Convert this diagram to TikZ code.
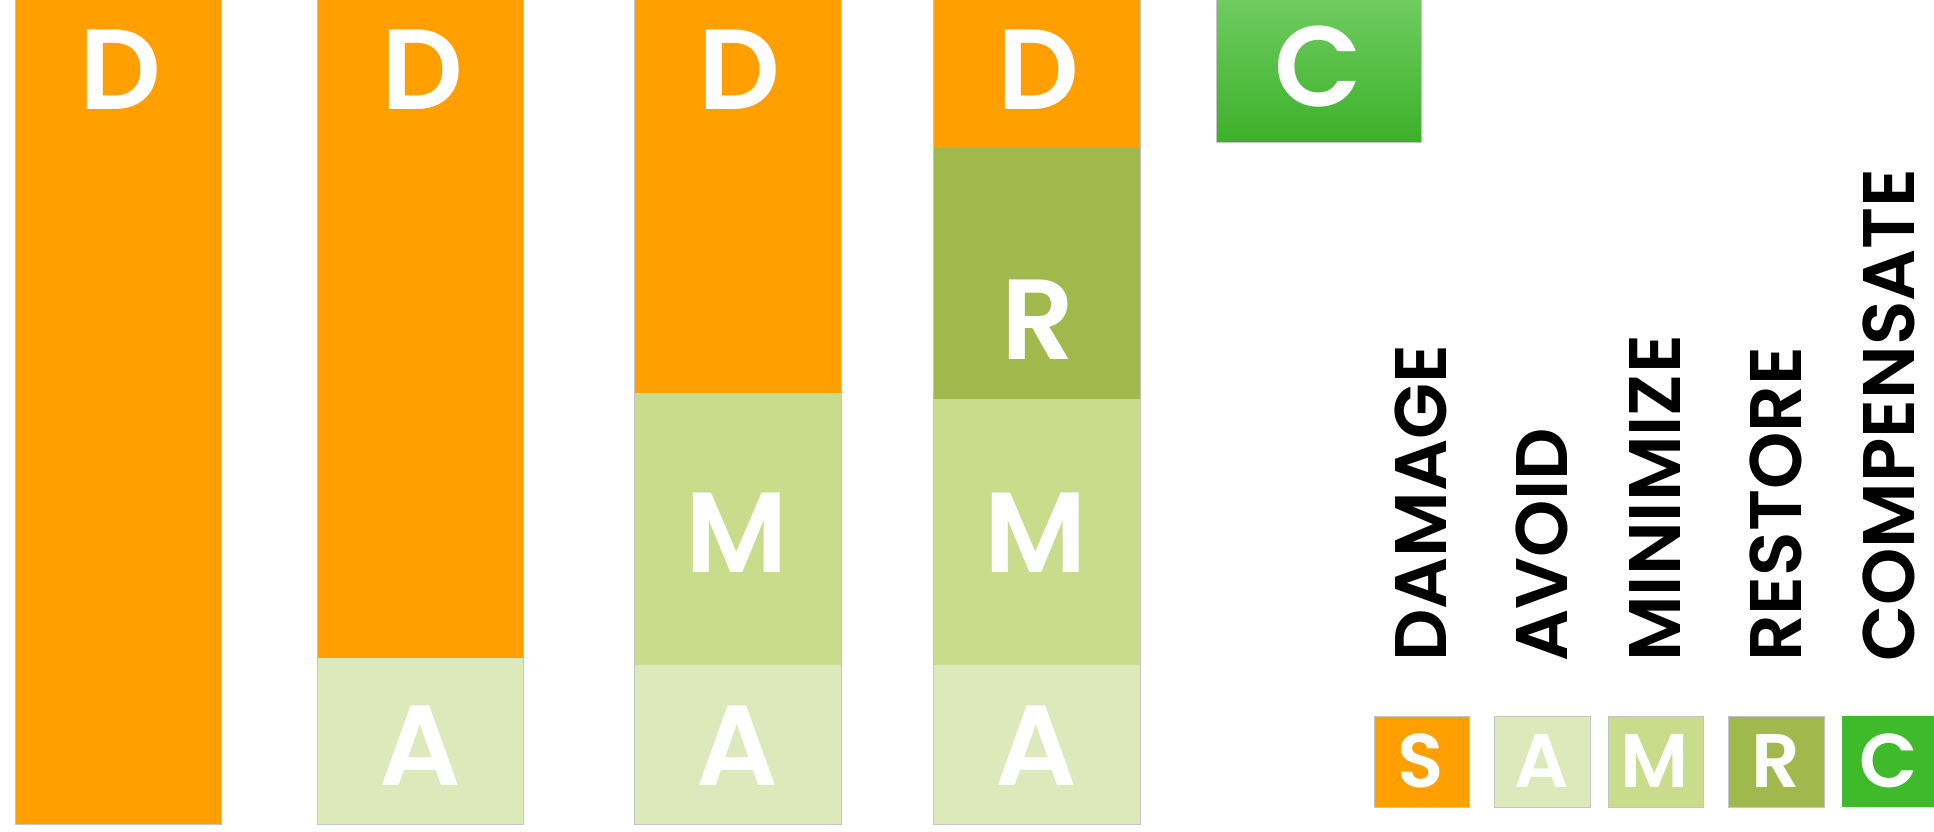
\documentclass[tikz,border=0pt]{standalone}
\usepackage{fontspec}
\setmainfont{Poppins}[UprightFont={* Medium}, BoldFont={* SemiBold}]
\definecolor{damage}{HTML}{FFA000}
\definecolor{avoid}{HTML}{DDE9BA}
\definecolor{minimize}{HTML}{C8DC8C}
\definecolor{restore}{HTML}{A1B94C}
\definecolor{compensate}{HTML}{3FBA2B}
\definecolor{edge}{HTML}{C4C4C4}
\begin{document}
\begin{tikzpicture}[x=1pt, y=-1pt,
        letter/.style={text=white, inner sep=0pt, font=\fontsize{114}{114}\selectfont\bfseries},
        keyletter/.style={text=white, inner sep=0pt, font=\fontsize{76}{76}\selectfont\bfseries},
        keyword/.style={rotate=90, anchor=west, inner sep=0pt, font=\fontsize{73}{73}\selectfont\bfseries},
        keybox/.style={draw=edge, line width=1pt}]
    \useasboundingbox (0,0) rectangle (1934,831);
    % bar 1
    \fill[damage] (15,0) rectangle (221,824);
    \draw[edge] (15,0) |- (221,824) -- (221,0);
    \node[letter] (d1) at (120,70) {D};
    % bar 2
    \fill[damage] (317,0) rectangle (523,658);
    \fill[avoid] (317,658) rectangle (523,824);
    \draw[edge] (317,0) |- (523,824) -- (523,0);
    \node[letter] (d2) at (422,70) {D};
    \node[letter] (a2) at (420,746) {A};
    % bar 3
    \fill[damage] (634,0) rectangle (841,393);
    \fill[minimize] (634,393) rectangle (841,665);
    \fill[avoid] (634,665) rectangle (841,824);
    \draw[edge] (634,0) |- (841,824) -- (841,0);
    \node[letter] (d3) at (739,70) {D};
    \node[letter] (m3) at (737,533) {M};
    \node[letter] (a3) at (737,746) {A};
    % bar 4
    \fill[damage] (933,0) rectangle (1140,148);
    \fill[restore] (933,148) rectangle (1140,399);
    \fill[minimize] (933,399) rectangle (1140,665);
    \fill[avoid] (933,665) rectangle (1140,824);
    \draw[edge] (933,0) |- (1140,824) -- (1140,0);
    \node[letter] (d4) at (1038,70) {D};
    \node[letter] (r4) at (1038,320) {R};
    \node[letter] (m4) at (1036,533) {M};
    \node[letter] (a4) at (1036,746) {A};
    % compensation block
    \shade[top color=compensate!75!white, bottom color=compensate!95!black] (1216,0) rectangle (1421,142);
    \draw[edge] (1216,0) |- (1421,142) -- (1421,0);
    \node[letter] (c5) at (1318,67) {C};
    % legend
    \fill[damage] (1374,716) rectangle (1469,807);
    \fill[avoid] (1494,716) rectangle (1590,807);
    \fill[minimize] (1608,716) rectangle (1703,807);
    \fill[restore] (1728,716) rectangle (1824,807);
    \fill[compensate] (1842,716) rectangle (1937,807);
    \draw[keybox] (1374,716) rectangle (1469,807);
    \draw[keybox] (1494,716) rectangle (1590,807);
    \draw[keybox] (1608,716) rectangle (1703,807);
    \draw[keybox] (1728,716) rectangle (1824,807);
    \node[keyletter] (ks) at (1421,761) {S};
    \node[keyletter] (ka) at (1542,761) {A};
    \node[keyletter] (km) at (1655,761) {M};
    \node[keyletter] (kr) at (1776,761) {R};
    \node[keyletter] (kc) at (1889,761) {C};
    \node[keyword] (wdamage) at (1421,662) {DAMAGE};
    \node[keyword] (wavoid) at (1542,662) {AVOID};
    \node[keyword] (wminimize) at (1655,662) {MINIMIZE};
    \node[keyword] (wrestore) at (1776,662) {RESTORE};
    \node[keyword] (wcompensate) at (1889,662) {COMPENSATE};
\end{tikzpicture}
\end{document}
